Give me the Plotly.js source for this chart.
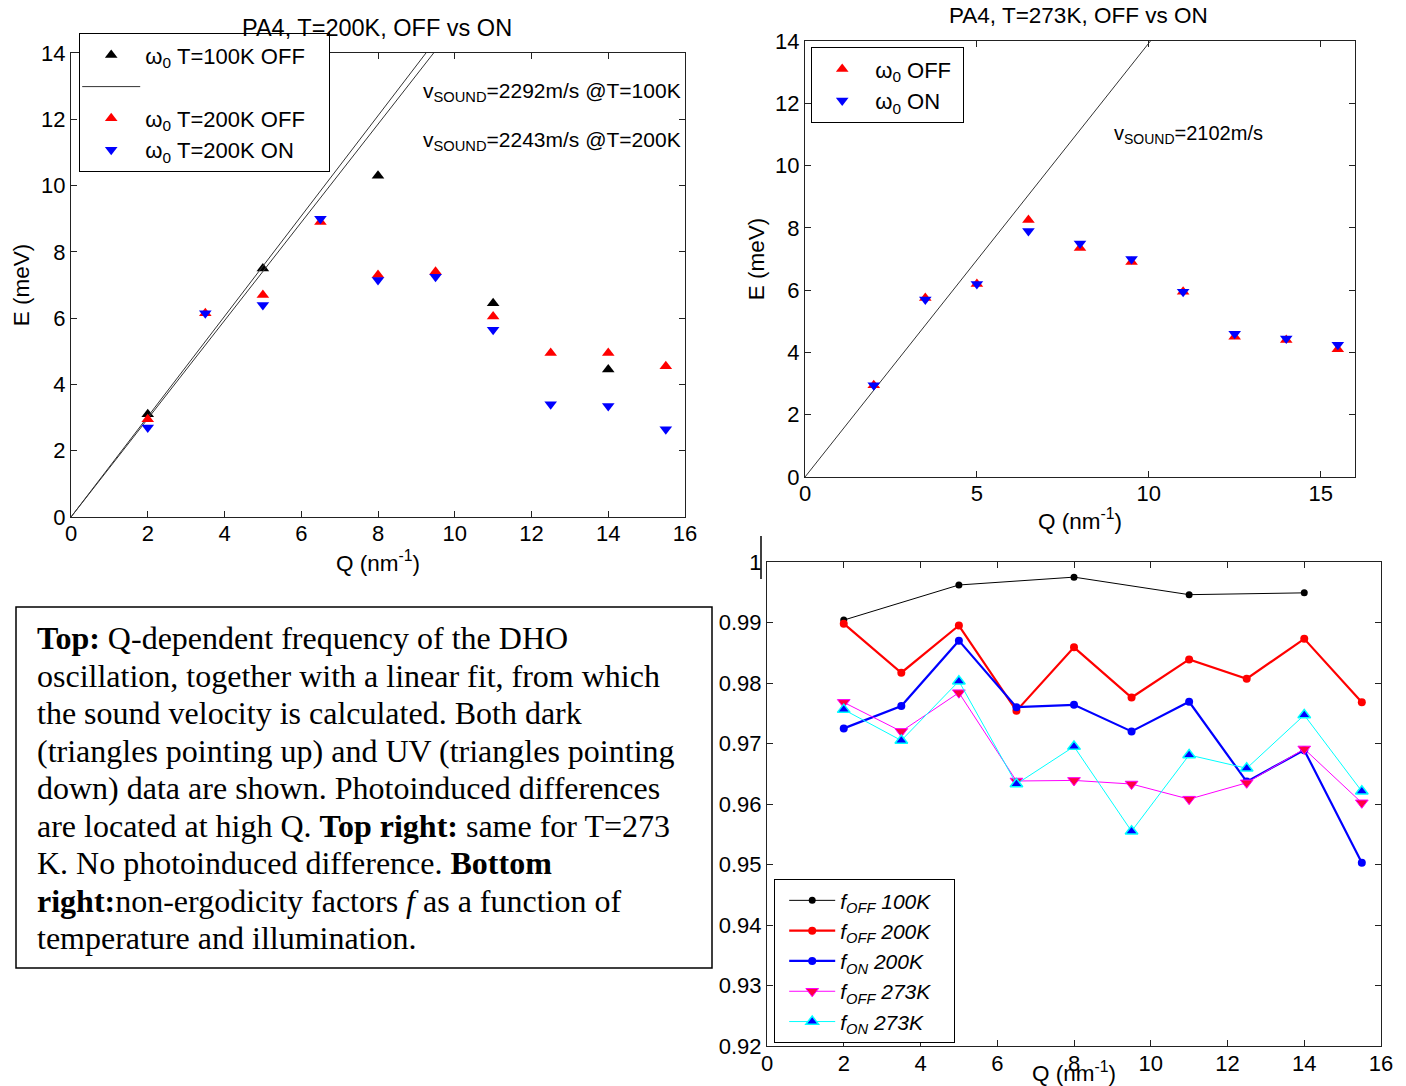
<!DOCTYPE html>
<html>
<head>
<meta charset="utf-8">
<script src="https://cdn.plot.ly/plotly-3.0.1.min.js"></script>
<style>html,body{margin:0;padding:0;background:#fff;}#chart{width:1406px;height:1086px;}</style>
</head>
<body>
<div id="chart"></div>
<script>
// ---------- Data: top-left (T=100K / 200K) ----------
const qAll = [2, 3.5, 5, 6.5, 8, 9.5, 11, 12.5, 14, 15.5];
const q100 = [2, 5, 8, 11, 14];
const e100off = [3.1, 7.5, 10.3, 6.45, 4.45];
const e200off = [2.95, 6.15, 6.7, 8.9, 7.3, 7.4, 6.05, 4.95, 4.95, 4.55];
const e200on  = [2.7, 6.15, 6.4, 9.0, 7.15, 7.25, 5.65, 3.4, 3.35, 2.65];
const fitE = [0, 14];
const fitQ100 = [0, 9.25];
const fitQ200 = [0, 9.45];
// ---------- Data: top-right (T=273K) ----------
const e273off = [2.95, 5.75, 6.2, 8.25, 7.35, 6.9, 5.95, 4.5, 4.4, 4.1];
const e273on  = [2.95, 5.7, 6.2, 7.9, 7.5, 7.0, 5.95, 4.6, 4.45, 4.25];
const fitQ273 = [0, 10.05];
// ---------- Data: bottom-right (non-ergodicity factors) ----------
const fOff100 = [0.9904, 0.9962, 0.9975, 0.9946, 0.9949];
const fOff200 = [0.9898, 0.9817, 0.9895, 0.9754, 0.9859, 0.9776, 0.9839, 0.9807, 0.9873, 0.9768];
const fOn200  = [0.9725, 0.9762, 0.9870, 0.9760, 0.9764, 0.9720, 0.9769, 0.9637, 0.9689, 0.9503];
const fOff273 = [0.9768, 0.9720, 0.9784, 0.9638, 0.9639, 0.9633, 0.9608, 0.9635, 0.9691, 0.9602];
const fOn273  = [0.9756, 0.9705, 0.9803, 0.9633, 0.9695, 0.9555, 0.9681, 0.9659, 0.9747, 0.9621];
const fTicks = [0.92, 0.93, 0.94, 0.95, 0.96, 0.97, 0.98, 0.99, 1];
const fTickText = ['0.92', '0.93', '0.94', '0.95', '0.96', '0.97', '0.98', '0.99', '1'];
// ---------- Caption text (one entry per printed line) ----------
const captionLines = [
  '<b>Top:</b> Q-dependent frequency of the DHO',
  'oscillation, together with a linear fit, from which',
  'the sound velocity is calculated. Both dark',
  '(triangles pointing up) and UV (triangles pointing',
  'down) data are shown. Photoinduced differences',
  'are located at high Q. <b>Top right:</b> same for T=273',
  'K. No photoinduced difference. <b>Bottom</b>',
  '<b>right:</b>non-ergodicity factors <i>f</i> as a function of',
  'temperature and illumination.'
];

const W = 1406, H = 1086;
const px = v => v / W;
const py = v => 1 - v / H;
const SANS = 'Liberation Sans, Arial, sans-serif';
const SERIF = 'Liberation Serif, Times New Roman, serif';
const pad = n => '\u00A0'.repeat(n);

const traces = [
  // top-left
  {x: q100, y: e100off, type: 'scatter', mode: 'markers', name: 'ω<sub>0</sub> T=100K OFF' + pad(3),
   marker: {symbol: 'triangle-up', size: 11, color: 'black'}, xaxis: 'x', yaxis: 'y', legend: 'legend'},
  {x: fitQ100, y: fitE, type: 'scatter', mode: 'lines', name: ' ',
   line: {color: '#333', width: 1}, xaxis: 'x', yaxis: 'y', legend: 'legend'},
  {x: fitQ200, y: fitE, type: 'scatter', mode: 'lines', name: ' ', showlegend: false,
   line: {color: '#333', width: 1}, xaxis: 'x', yaxis: 'y'},
  {x: qAll, y: e200off, type: 'scatter', mode: 'markers', name: 'ω<sub>0</sub> T=200K OFF' + pad(3),
   marker: {symbol: 'triangle-up', size: 11, color: 'red'}, xaxis: 'x', yaxis: 'y', legend: 'legend'},
  {x: qAll, y: e200on, type: 'scatter', mode: 'markers', name: 'ω<sub>0</sub> T=200K ON',
   marker: {symbol: 'triangle-down', size: 11, color: 'blue'}, xaxis: 'x', yaxis: 'y', legend: 'legend'},
  // top-right
  {x: fitQ273, y: fitE, type: 'scatter', mode: 'lines', showlegend: false,
   line: {color: '#333', width: 1}, xaxis: 'x2', yaxis: 'y2'},
  {x: qAll, y: e273off, type: 'scatter', mode: 'markers', name: 'ω<sub>0</sub> OFF' + pad(1),
   marker: {symbol: 'triangle-up', size: 11, color: 'red'}, xaxis: 'x2', yaxis: 'y2', legend: 'legend2'},
  {x: qAll, y: e273on, type: 'scatter', mode: 'markers', name: 'ω<sub>0</sub> ON',
   marker: {symbol: 'triangle-down', size: 11, color: 'blue'}, xaxis: 'x2', yaxis: 'y2', legend: 'legend2'},
  // bottom-right
  {x: q100, y: fOff100, type: 'scatter', mode: 'lines+markers', name: '<i>f<sub>OFF</sub> 100K</i>' + pad(3),
   line: {color: 'black', width: 1}, marker: {symbol: 'circle', size: 7, color: 'black'},
   xaxis: 'x3', yaxis: 'y3', legend: 'legend3'},
  {x: qAll, y: fOff200, type: 'scatter', mode: 'lines+markers', name: '<i>f<sub>OFF</sub> 200K</i>' + pad(3),
   line: {color: 'red', width: 2.2}, marker: {symbol: 'circle', size: 8, color: 'red'},
   xaxis: 'x3', yaxis: 'y3', legend: 'legend3'},
  {x: qAll, y: fOn200, type: 'scatter', mode: 'lines+markers', name: '<i>f<sub>ON</sub> 200K</i>',
   line: {color: 'blue', width: 2.2}, marker: {symbol: 'circle', size: 8, color: 'blue'},
   xaxis: 'x3', yaxis: 'y3', legend: 'legend3'},
  {x: qAll, y: fOff273, type: 'scatter', mode: 'lines+markers', name: '<i>f<sub>OFF</sub> 273K</i>',
   line: {color: 'magenta', width: 1}, marker: {symbol: 'triangle-down', size: 11, color: '#ff0040', line: {color: 'magenta', width: 1}},
   xaxis: 'x3', yaxis: 'y3', legend: 'legend3'},
  {x: qAll, y: fOn273, type: 'scatter', mode: 'lines+markers', name: '<i>f<sub>ON</sub> 273K</i>',
   line: {color: 'cyan', width: 1}, marker: {symbol: 'triangle-up', size: 11, color: 'blue', line: {color: 'cyan', width: 1.5}},
   xaxis: 'x3', yaxis: 'y3', legend: 'legend3'}
];

function axisBase(extra) {
  return Object.assign({
    showgrid: false, zeroline: false, showline: true, linecolor: '#222', linewidth: 1,
    mirror: 'ticks', ticks: 'inside', ticklen: 6, tickcolor: '#222',
    tickfont: {family: SANS, size: 22, color: 'black'}, fixedrange: true
  }, extra);
}

const captionAnnotations = captionLines.map((t, i) => ({
  text: t, xref: 'paper', yref: 'paper', x: px(35), y: py(638 + i * 37.5),
  xanchor: 'left', yanchor: 'middle', align: 'left', showarrow: false,
  font: {family: SERIF, size: 32, color: 'black'}
}));

const layout = {
  width: W, height: H,
  margin: {l: 0, r: 0, t: 0, b: 0},
  paper_bgcolor: 'white', plot_bgcolor: 'white',
  font: {family: SANS, color: 'black'},
  showlegend: true,
  xaxis: axisBase({domain: [px(71), px(685)], range: [0, 16], tickvals: [0, 2, 4, 6, 8, 10, 12, 14, 16],
    ticklabelstandoff: -3,
    anchor: 'y', title: {text: 'Q (nm<sup>-1</sup>)', font: {family: SANS, size: 22.5}, standoff: 9}}),
  yaxis: axisBase({domain: [py(517), py(53)], range: [0, 14], tickvals: [0, 2, 4, 6, 8, 10, 12, 14],
    anchor: 'x', title: {text: 'E (meV)', font: {family: SANS, size: 22.5}, standoff: 5}}),
  xaxis2: axisBase({domain: [px(805), px(1355)], range: [0, 16], tickvals: [0, 5, 10, 15],
    ticklabelstandoff: -3,
    anchor: 'y2', title: {text: 'Q (nm<sup>-1</sup>)', font: {family: SANS, size: 22.5}, standoff: 7}}),
  yaxis2: axisBase({domain: [py(477), py(41)], range: [0, 14], tickvals: [0, 2, 4, 6, 8, 10, 12, 14],
    anchor: 'x2', title: {text: 'E (meV)', font: {family: SANS, size: 22.5}, standoff: 4}}),
  xaxis3: axisBase({domain: [px(767), px(1381)], range: [0, 16], tickvals: [0, 2, 4, 6, 8, 10, 12, 14, 16],
    ticklabelstandoff: -2,
    anchor: 'y3', title: {text: 'Q (nm<sup>-1</sup>)', font: {family: SANS, size: 22.5}, standoff: -7}}),
  yaxis3: axisBase({domain: [py(1046), py(562)], range: [0.92, 1], tickvals: fTicks, ticktext: fTickText,
    anchor: 'x3'}),
  legend: {x: px(79), y: py(33), xanchor: 'left', yanchor: 'top', bgcolor: 'white',
    bordercolor: 'black', borderwidth: 1.2, font: {family: SANS, size: 22}, tracegroupgap: 0,
    indentation: -3, itemwidth: 58},
  legend2: {x: px(811), y: py(47), xanchor: 'left', yanchor: 'top', bgcolor: 'white',
    bordercolor: 'black', borderwidth: 1.2, font: {family: SANS, size: 22},
    indentation: -3, itemwidth: 56},
  legend3: {x: px(774), y: py(879), xanchor: 'left', yanchor: 'top', bgcolor: 'white',
    bordercolor: 'black', borderwidth: 1.2, font: {family: SANS, size: 21},
    indentation: 9, itemwidth: 46},
  shapes: [
    {type: 'rect', xref: 'paper', yref: 'paper', x0: px(16), x1: px(712), y0: py(607), y1: py(968),
     line: {color: 'black', width: 1.5}},
    {type: 'line', xref: 'paper', yref: 'paper', x0: px(761), x1: px(761), y0: py(536), y1: py(579),
     line: {color: 'black', width: 1.5}}
  ],
  annotations: [
    {text: 'PA4, T=200K, OFF vs ON', xref: 'paper', yref: 'paper', x: px(377), y: py(28),
     xanchor: 'center', yanchor: 'middle', showarrow: false, font: {family: SANS, size: 23.5}},
    {text: 'PA4, T=273K, OFF vs ON', xref: 'paper', yref: 'paper', x: px(1078), y: py(16),
     xanchor: 'center', yanchor: 'middle', showarrow: false, font: {family: SANS, size: 22.5}},
    {text: 'v<sub>SOUND</sub>=2292m/s @T=100K', xref: 'paper', yref: 'paper', x: px(421), y: py(92),
     xanchor: 'left', yanchor: 'middle', showarrow: false, font: {family: SANS, size: 21}},
    {text: 'v<sub>SOUND</sub>=2243m/s @T=200K', xref: 'paper', yref: 'paper', x: px(421), y: py(141),
     xanchor: 'left', yanchor: 'middle', showarrow: false, font: {family: SANS, size: 21}},
    {text: 'v<sub>SOUND</sub>=2102m/s', xref: 'paper', yref: 'paper', x: px(1112), y: py(134),
     xanchor: 'left', yanchor: 'middle', showarrow: false, font: {family: SANS, size: 20}}
  ].concat(captionAnnotations)
};

Plotly.newPlot('chart', traces, layout, {staticPlot: true, displayModeBar: false});
</script>
</body>
</html>
